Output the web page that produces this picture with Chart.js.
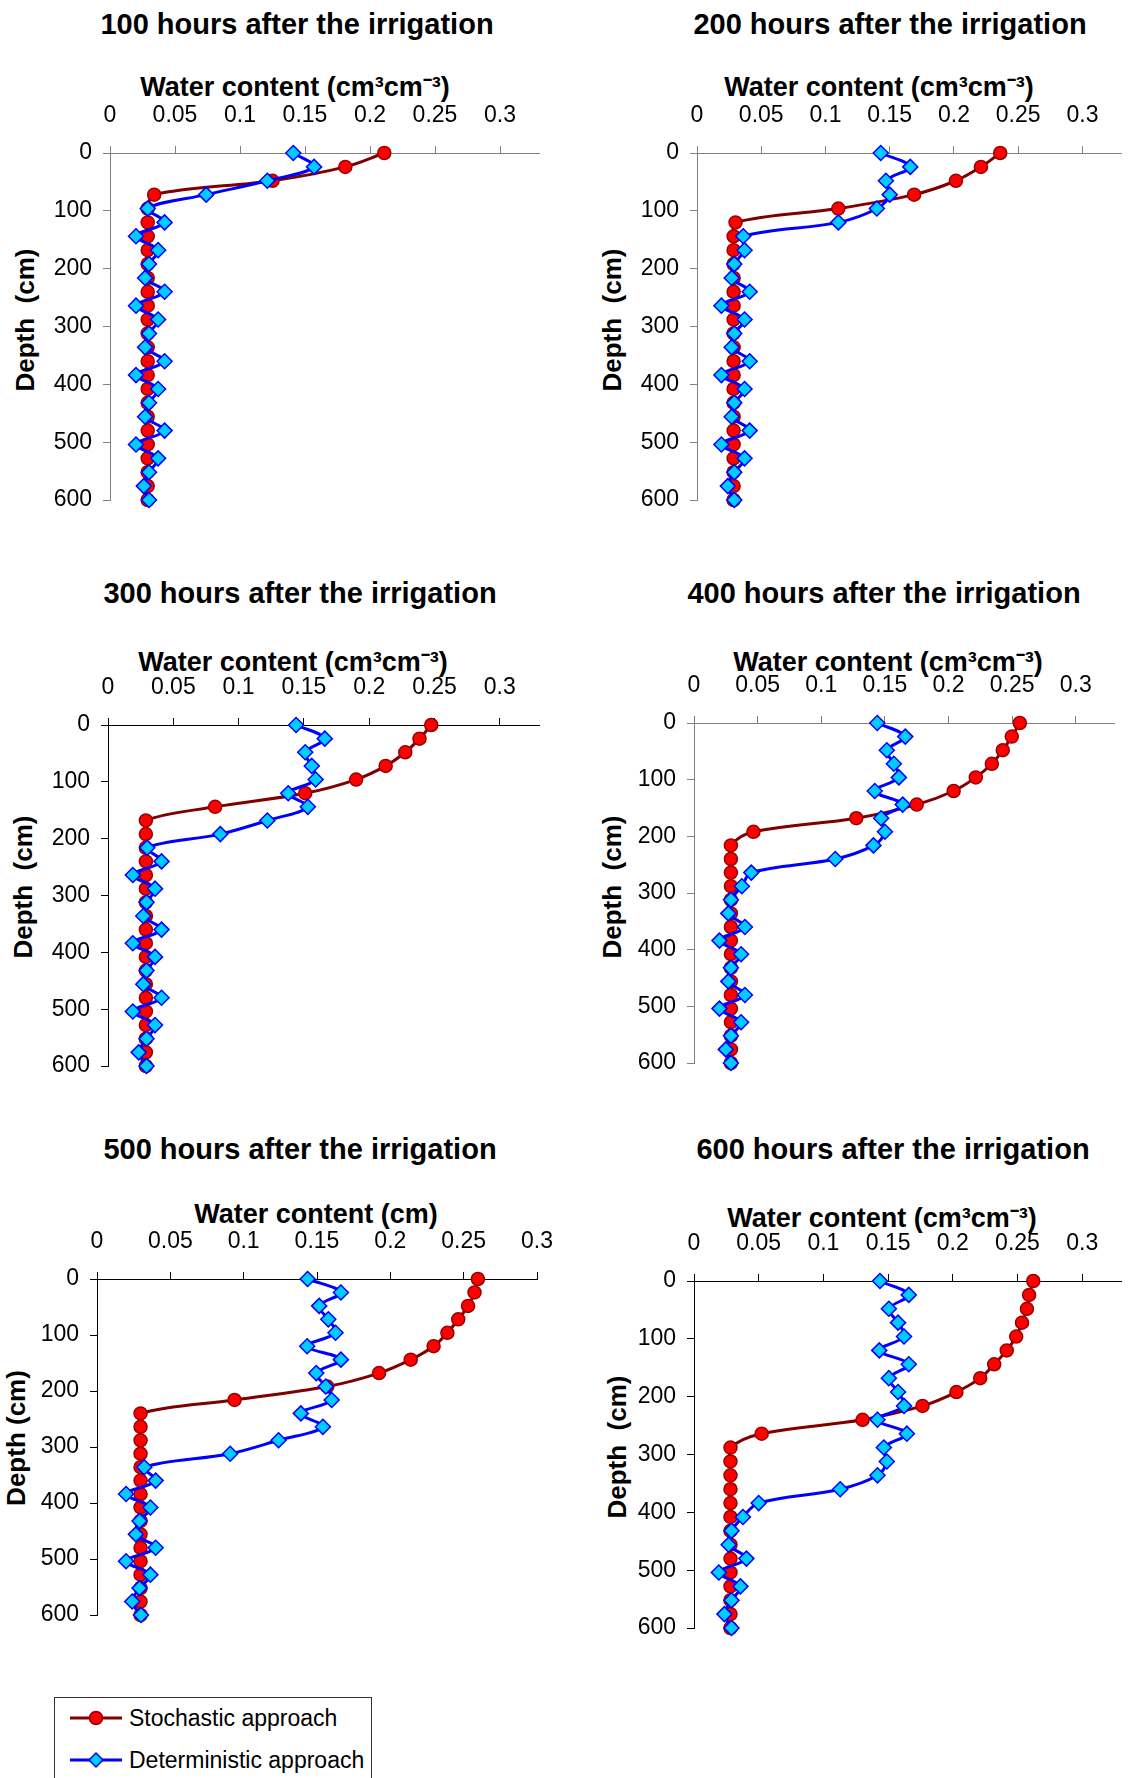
<!DOCTYPE html>
<html lang="en">
<head>
<meta charset="utf-8">
<title>Water content profiles after irrigation</title>
<script src="https://cdn.jsdelivr.net/npm/chart.js@4.4.1/dist/chart.umd.min.js"></script>
<style>
  html, body { margin: 0; padding: 0; background: #fff; overflow: hidden; }
  body { position: relative; width: 1130px; height: 1778px; font-family: "Liberation Sans", Arial, sans-serif; color: #000; }
  canvas { position: absolute; }
  .lbl { position: absolute; white-space: pre; line-height: 1; font-weight: bold; transform: translate(-50%, -50%); }
  .ttl { font-size: 29px; }
  .xt { font-size: 27px; }
  .yt { font-size: 26px; transform: translate(-50%, -50%) rotate(-90deg); }
  .legend { position: absolute; left: 54px; top: 1697px; width: 318px; height: 120px; border: 1px solid #333; box-sizing: border-box; }
  .legend .row { position: absolute; left: 15px; height: 30px; display: flex; align-items: center; font-size: 23px; white-space: nowrap; }
  .legend svg { margin-right: 7px; }
</style>
</head>
<body>
<div class="legend">
  <div class="row" style="top:5px">
    <svg width="52" height="20"><line x1="0" y1="10" x2="52" y2="10" stroke="#800000" stroke-width="3"/><circle cx="26" cy="10" r="6.5" fill="#ff0000" stroke="#990000" stroke-width="1.5"/></svg>Stochastic approach
  </div>
  <div class="row" style="top:47px">
    <svg width="52" height="20"><line x1="0" y1="10" x2="52" y2="10" stroke="#0000ff" stroke-width="3"/><polygon points="26,3 33,10 26,17 19,10" fill="#00ccff" stroke="#0000ff" stroke-width="1.5"/></svg>Deterministic approach
  </div>
</div>
<script>
// depth of each simulated node (cm)
const depths = [0, 24, 48, 72, 96, 120, 144, 168, 192, 216, 240, 264, 288, 312, 336, 360, 384, 408, 432, 456, 480, 504, 528, 552, 576, 600];
const waterTicks = [0, 0.05, 0.1, 0.15, 0.2, 0.25, 0.3];
const depthTicks = [0, 100, 200, 300, 400, 500, 600];
const hours = [100, 200, 300, 400, 500, 600];

// water content (cm3/cm3) per node, stochastic vs deterministic model
const stoch100 = [0.211, 0.181, 0.125, 0.034, 0.029, 0.029, 0.029, 0.029, 0.029, 0.029, 0.029, 0.029, 0.029, 0.029, 0.029, 0.029, 0.029, 0.029, 0.029, 0.029, 0.029, 0.029, 0.029, 0.029, 0.029, 0.029];
const det100 = [0.141, 0.157, 0.121, 0.074, 0.029, 0.042, 0.020, 0.037, 0.030, 0.027, 0.042, 0.020, 0.037, 0.030, 0.027, 0.042, 0.020, 0.037, 0.030, 0.027, 0.042, 0.020, 0.037, 0.030, 0.026, 0.030];

const stoch200 = [0.236, 0.221, 0.2015, 0.169, 0.110, 0.030, 0.0285, 0.0285, 0.0285, 0.0285, 0.0285, 0.0285, 0.0285, 0.0285, 0.0285, 0.0285, 0.0285, 0.0285, 0.0285, 0.0285, 0.0285, 0.0285, 0.0285, 0.0285, 0.0285, 0.0285];
const det200 = [0.143, 0.166, 0.147, 0.150, 0.140, 0.110, 0.036, 0.037, 0.029, 0.027, 0.041, 0.019, 0.037, 0.029, 0.027, 0.041, 0.019, 0.037, 0.029, 0.027, 0.041, 0.019, 0.037, 0.029, 0.024, 0.029];

const stoch300 = [0.2475, 0.2385, 0.2276, 0.2126, 0.190, 0.151, 0.082, 0.029, 0.029, 0.029, 0.029, 0.029, 0.029, 0.029, 0.029, 0.029, 0.029, 0.029, 0.029, 0.029, 0.029, 0.029, 0.029, 0.029, 0.029, 0.029];
const det300 = [0.144, 0.166, 0.151, 0.156, 0.159, 0.138, 0.153, 0.122, 0.086, 0.030, 0.041, 0.019, 0.036, 0.0295, 0.027, 0.041, 0.019, 0.036, 0.0295, 0.027, 0.041, 0.019, 0.036, 0.0295, 0.0235, 0.0295];

const stoch400 = [0.256, 0.2497, 0.2426, 0.234, 0.2214, 0.204, 0.175, 0.1275, 0.0467, 0.029, 0.029, 0.029, 0.029, 0.029, 0.029, 0.029, 0.029, 0.029, 0.029, 0.029, 0.029, 0.029, 0.029, 0.029, 0.029, 0.029];
const det400 = [0.144, 0.166, 0.1515, 0.157, 0.161, 0.142, 0.164, 0.147, 0.150, 0.141, 0.111, 0.045, 0.0376, 0.029, 0.027, 0.040, 0.020, 0.037, 0.029, 0.027, 0.040, 0.020, 0.037, 0.029, 0.025, 0.029];

const stoch500 = [0.2597, 0.2574, 0.253, 0.2463, 0.2389, 0.2295, 0.2139, 0.1923, 0.157, 0.0938, 0.0297, 0.0297, 0.0297, 0.0297, 0.0297, 0.0297, 0.0297, 0.0297, 0.0297, 0.0297, 0.0297, 0.0297, 0.0297, 0.0297, 0.0297, 0.0297];
const det500 = [0.1436, 0.1663, 0.1515, 0.1577, 0.1626, 0.1433, 0.1663, 0.1495, 0.156, 0.160, 0.139, 0.154, 0.1238, 0.0908, 0.0322, 0.040, 0.0198, 0.0364, 0.029, 0.0265, 0.040, 0.0198, 0.0364, 0.029, 0.024, 0.030];

const stoch600 = [0.2622, 0.259, 0.2573, 0.2535, 0.249, 0.2417, 0.232, 0.2212, 0.2028, 0.1766, 0.1303, 0.0523, 0.0282, 0.0282, 0.0282, 0.0282, 0.0282, 0.0282, 0.0282, 0.0282, 0.0282, 0.0282, 0.0282, 0.0282, 0.0282, 0.0282];
const det600 = [0.1437, 0.166, 0.1506, 0.1577, 0.1623, 0.1432, 0.166, 0.1506, 0.1577, 0.1623, 0.1418, 0.1645, 0.1467, 0.149, 0.1418, 0.113, 0.050, 0.0378, 0.029, 0.0268, 0.0405, 0.0192, 0.0359, 0.029, 0.0235, 0.029];

const WC_UNITS = 'Water content (cm\u00b3cm\u207b\u00b3)';

// plot boxes: L/R = x pixel of 0 and of axis end, T/B = y pixel of depth 0 and 600
const panels = [
  { stoch: stoch100, det: det100, L: 110, T: 153, R: 539, B: 500, xMax: 0.33, axis: '#808080', padR: 30,
    title: [297, 24], xTitle: [295, 87], yTitle: [25, 320], xText: WC_UNITS, yText: 'Depth  (cm)' },
  { stoch: stoch200, det: det200, L: 697, T: 153, R: 1124, B: 500, xMax: 0.33, axis: '#808080', padR: 6,
    title: [890, 24], xTitle: [879, 87], yTitle: [612, 320], xText: WC_UNITS, yText: 'Depth  (cm)' },
  { stoch: stoch300, det: det300, L: 108, T: 725, R: 539, B: 1066, xMax: 0.33, axis: '#000000', padR: 30,
    title: [300, 593], xTitle: [293, 662], yTitle: [23, 887], xText: WC_UNITS, yText: 'Depth  (cm)' },
  { stoch: stoch400, det: det400, L: 694, T: 723, R: 1114, B: 1063, xMax: 0.33, axis: '#808080', padR: 16,
    title: [884, 593], xTitle: [888, 662], yTitle: [612, 887], xText: WC_UNITS, yText: 'Depth  (cm)' },
  { stoch: stoch500, det: det500, L: 97, T: 1279, R: 537, B: 1615, xMax: 0.3, axis: '#000000', padR: 30,
    title: [300, 1149], xTitle: [316, 1214], yTitle: [16, 1438], xText: 'Water content (cm)', yText: 'Depth (cm)' },
  { stoch: stoch600, det: det600, L: 694, T: 1281, R: 1129, B: 1628, xMax: 0.33, axis: '#000000', padR: 1,
    title: [893, 1149], xTitle: [882, 1218], yTitle: [617, 1447], xText: WC_UNITS, yText: 'Depth  (cm)' }
];

function addLabel(cls, text, pos) {
  const d = document.createElement('div');
  d.className = 'lbl ' + cls;
  d.textContent = text;
  d.style.left = pos[0] + 'px';
  d.style.top = pos[1] + 'px';
  document.body.appendChild(d);
}

const AXIS_W = 85;   // room left of the plot for depth labels
const AXIS_H = 58;   // room above the plot for water content labels
const PAD_B = 16;

panels.forEach(function(p, i) {
  addLabel('ttl', hours[i] + ' hours after the irrigation', p.title);
  addLabel('xt', p.xText, p.xTitle);
  addLabel('yt', p.yText, p.yTitle);

  const left = p.L - AXIS_W, top = p.T - AXIS_H;
  const w = p.R - left + p.padR, h = p.B - top + PAD_B;
  const cv = document.createElement('canvas');
  cv.width = w; cv.height = h;
  cv.style.left = left + 'px'; cv.style.top = top + 'px';
  cv.style.width = w + 'px'; cv.style.height = h + 'px';
  document.body.appendChild(cv);

  const pts = vals => vals.map((v, k) => ({ x: v, y: depths[k] }));
  const tickFont = { family: '"Liberation Sans", Arial, sans-serif', size: 23 };

  new Chart(cv, {
    type: 'line',
    data: {
      datasets: [
        { label: 'Stochastic approach', data: pts(p.stoch), order: 1,
          borderColor: '#800000', borderWidth: 3, tension: 0.35, clip: false,
          pointStyle: 'circle', pointRadius: 6.5, pointBackgroundColor: '#ff0000', pointBorderColor: '#990000', pointBorderWidth: 1.5 },
        { label: 'Deterministic approach', data: pts(p.det), order: 0,
          borderColor: '#0000ff', borderWidth: 3, tension: 0.35, clip: false,
          pointStyle: 'rectRot', pointRadius: 7.5, pointBackgroundColor: '#00ccff', pointBorderColor: '#0000ff', pointBorderWidth: 1.5 }
      ]
    },
    options: {
      responsive: false, animation: false, indexAxis: 'y', devicePixelRatio: 1,
      layout: { padding: { left: 0, top: 0, right: p.padR, bottom: PAD_B } },
      plugins: { legend: { display: false }, tooltip: { enabled: false } },
      scales: {
        x: {
          type: 'linear', position: 'top', min: 0, max: p.xMax,
          afterBuildTicks: s => { s.ticks = waterTicks.map(v => ({ value: v })); },
          afterFit: s => { s.height = AXIS_H; s.paddingLeft = 0; s.paddingRight = 0; },
          ticks: { color: '#000', font: tickFont, padding: 17, maxRotation: 0, autoSkip: false, callback: v => String(v) },
          grid: { drawOnChartArea: false, drawTicks: true, tickLength: 7, tickColor: p.axis, tickWidth: 1 },
          border: { display: true, color: p.axis, width: 1 }
        },
        y: {
          type: 'linear', reverse: true, min: 0, max: 600,
          afterBuildTicks: s => { s.ticks = depthTicks.map(v => ({ value: v })); },
          afterFit: s => { s.width = AXIS_W; s.paddingTop = 0; s.paddingBottom = 0; },
          ticks: { color: '#000', font: tickFont, padding: 11, autoSkip: false, callback: v => String(v) },
          grid: { drawOnChartArea: false, drawTicks: true, tickLength: 7, tickColor: p.axis, tickWidth: 1 },
          border: { display: true, color: p.axis, width: 1 }
        }
      }
    }
  });
});
</script>
</body>
</html>
